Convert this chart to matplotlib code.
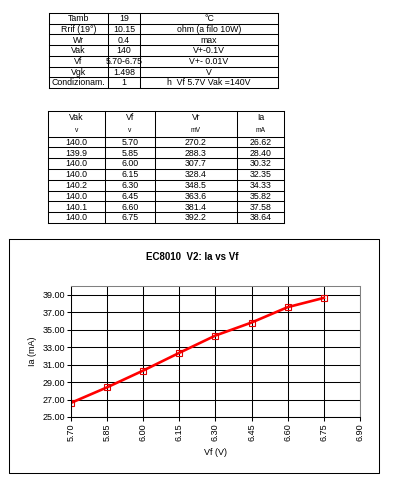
import numpy as np
import matplotlib
matplotlib.use("Agg")
import matplotlib.pyplot as plt
from matplotlib.ticker import FormatStrFormatter

plt.rcParams['font.family'] = ['Liberation Sans', 'DejaVu Sans']

# --- data ---
cond_labels = ["Tamb", "Rrif (19°)", "Wr", "Vak", "Vf", "Vgk", "Condizionam."]
cond_values = ["19", "10.15", "0.4", "140", "5.70-6.75", "1.498", "1"]
cond_units = ["°C", "ohm (a filo 10W)", "max", "V+-0.1V", "V+- 0.01V", "V",
              "h  Vf 5.7V Vak =140V"]

meas_head = ["Vak", "Vf", "Vr", "Ia"]
meas_units = ["v", "v", "mV", "mA"]
vak = ["140.0", "139.9", "140.0", "140.0", "140.2", "140.0", "140.1", "140.0"]
vf = [5.70, 5.85, 6.00, 6.15, 6.30, 6.45, 6.60, 6.75]
vr = ["270.2", "288.3", "307.7", "328.4", "348.5", "363.6", "381.4", "392.2"]
ia = [26.62, 28.40, 30.32, 32.35, 34.33, 35.82, 37.58, 38.64]

W, H = 394, 484
fig = plt.figure(figsize=(W / 100, H / 100), dpi=100)

# background axes in pixel units for the sheet cells
bg = fig.add_axes([0, 0, 1, 1])
bg.set_xlim(0, W)
bg.set_ylim(H, 0)
bg.axis('off')

lw = 0.75
fs = 6.3

# table 1
xs1 = [49, 108, 140, 278]
y0, rh = 13, 10.7
ys1 = [y0 + i * rh for i in range(len(cond_labels) + 1)]
for y in ys1:
    bg.plot([xs1[0], xs1[-1]], [y, y], color='black', lw=lw)
for x in xs1:
    bg.plot([x, x], [ys1[0], ys1[-1]], color='black', lw=lw)
for i, row in enumerate(zip(cond_labels, cond_values, cond_units)):
    yc = (ys1[i] + ys1[i + 1]) / 2
    for j, txt in enumerate(row):
        bg.text((xs1[j] + xs1[j + 1]) / 2, yc + 0.3, txt, ha='center', va='center', fontsize=fs)

# table 2
xs2 = [48, 105, 155, 237, 284]
top2, head_bot, rh2 = 111, 136.5, 10.8
ys2 = [head_bot + i * rh2 for i in range(len(vak) + 1)]
for y in [top2] + ys2:
    bg.plot([xs2[0], xs2[-1]], [y, y], color='black', lw=lw)
for x in xs2:
    bg.plot([x, x], [top2, ys2[-1]], color='black', lw=lw)
for j in range(4):
    xc = (xs2[j] + xs2[j + 1]) / 2
    bg.text(xc, 118, meas_head[j], ha='center', va='center', fontsize=fs)
    bg.text(xc, 130, meas_units[j], ha='center', va='center', fontsize=4.8)
for i in range(len(vak)):
    yc = (ys2[i] + ys2[i + 1]) / 2 + 0.3
    row = [vak[i], f"{vf[i]:.2f}", vr[i], f"{ia[i]:.2f}"]
    for j, txt in enumerate(row):
        bg.text((xs2[j] + xs2[j + 1]) / 2, yc, txt, ha='center', va='center', fontsize=fs)

# chart frame
bx0, by0, bx1, by1 = 9, 239, 379, 473
bg.plot([bx0, bx1, bx1, bx0, bx0], [by0, by0, by1, by1, by0], color='black', lw=lw)
bg.text(192, 257, "EC8010  V2: Ia vs Vf", ha='center', va='center',
        fontsize=7, fontweight='bold')

# plot area
pl, pr, pt, pb = 71, 360, 286, 417
ax = fig.add_axes([pl / W, (H - pb) / H, (pr - pl) / W, (pb - pt) / H])
ax.plot(vf, ia, color='red', lw=1.9, marker='s', ms=4.5, mfc='none', mec='#e00000', mew=0.8)
ax.set_xlim(5.70, 6.90)
ax.set_ylim(25, 40)
ax.set_xticks(np.arange(5.70, 6.91, 0.15))
ax.set_yticks(np.arange(25, 40, 2))
ax.xaxis.set_major_formatter(FormatStrFormatter('%.2f'))
ax.yaxis.set_major_formatter(FormatStrFormatter('%.2f'))
ax.grid(True, color='black', lw=lw)
ax.set_axisbelow(True)
for s in ['top', 'right']:
    ax.spines[s].set_color('#808080')
    ax.spines[s].set_linewidth(lw)
for s in ['left', 'bottom']:
    ax.spines[s].set_linewidth(lw)
ax.tick_params(axis='x', labelrotation=90, labelsize=6.5, length=3, width=lw, pad=1.5)
ax.tick_params(axis='y', labelsize=6.5, length=3, width=lw, pad=1.5)
ax.set_xlabel("Vf (V)", fontsize=6.5, labelpad=5)
ax.set_ylabel("Ia (mA)", fontsize=6.5, labelpad=4)

fig.savefig("out.png", dpi=100)
